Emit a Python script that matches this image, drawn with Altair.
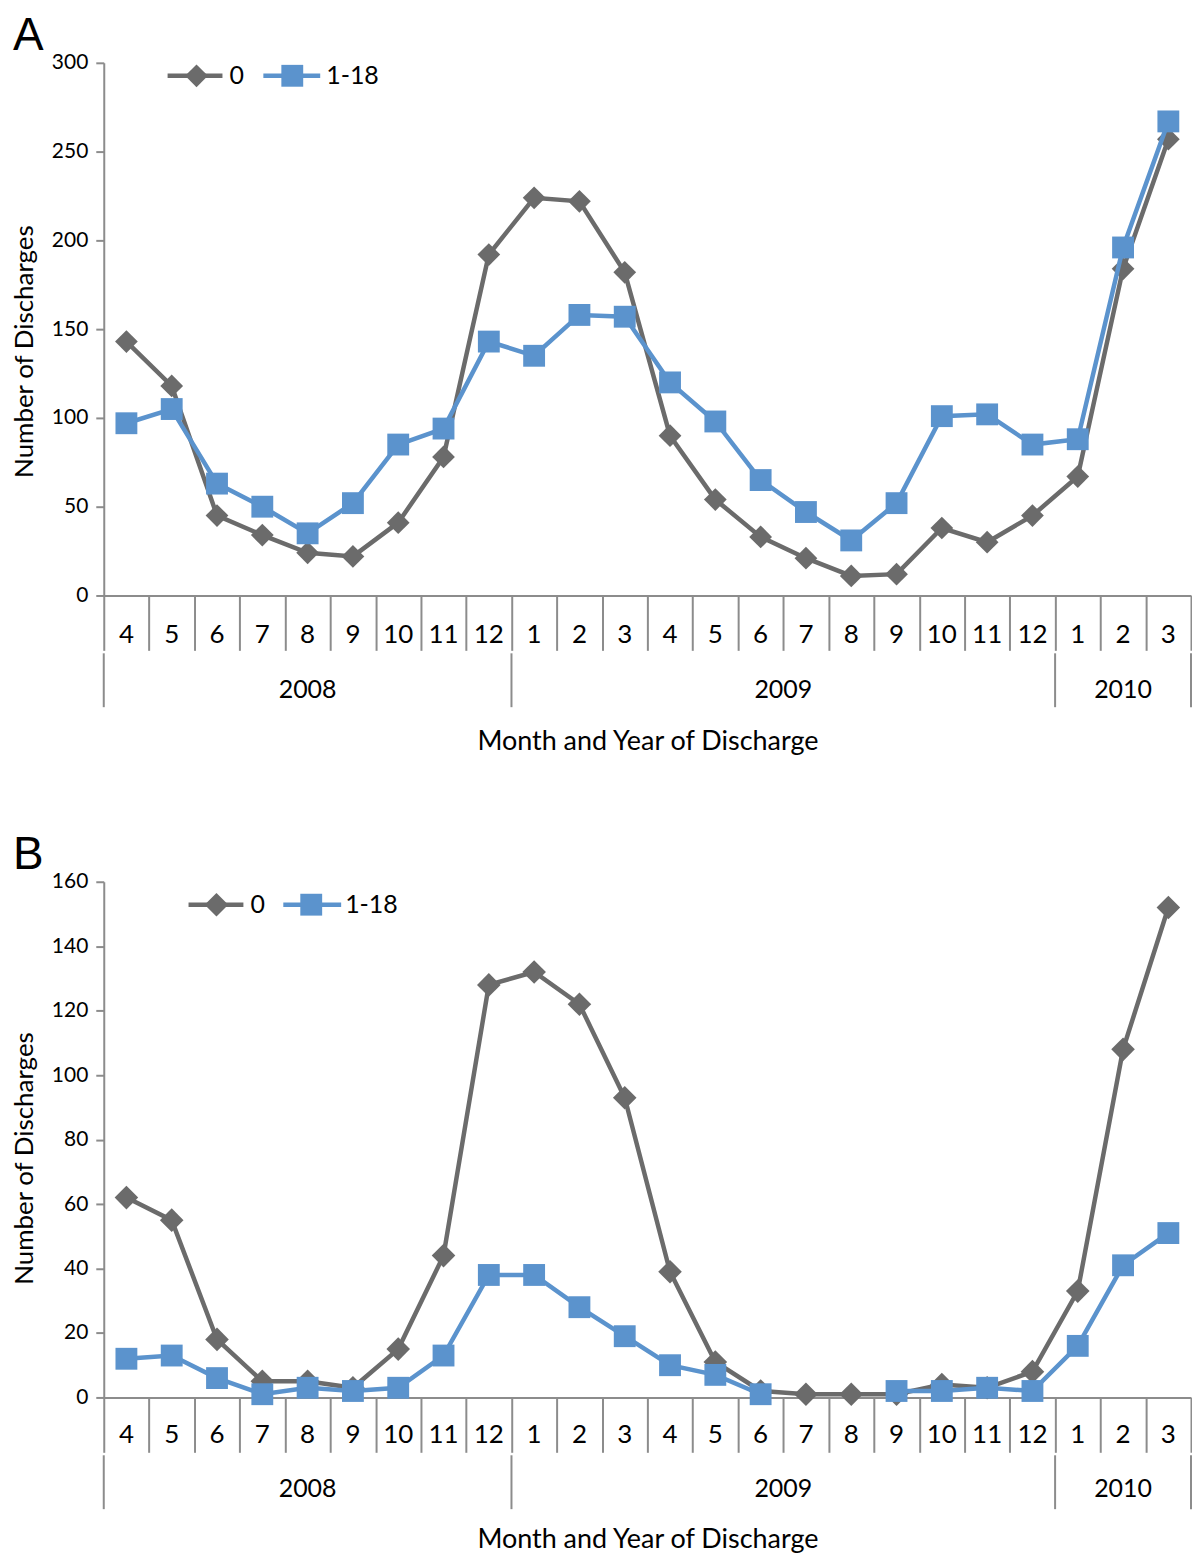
import altair as alt
import pandas as pd

# ---------------- data ----------------
months = [4, 5, 6, 7, 8, 9, 10, 11, 12, 1, 2, 3, 4, 5, 6, 7, 8, 9, 10, 11, 12, 1, 2, 3]
years = ["2008", "2009", "2010"]
year_first = [0, 9, 21]   # index of first month of each year
year_last = [8, 20, 23]   # index of last month of each year
series = ["0", "1-18"]

a_zero = [143, 118, 45, 34, 24, 22, 41, 78, 192, 224, 222, 182, 90, 54, 33, 21, 11, 12, 38, 30, 45, 67, 184, 257]
a_kids = [97, 105, 63, 50, 35, 52, 85, 94, 143, 135, 158, 157, 120, 98, 65, 47, 31, 52, 101, 102, 85, 88, 196, 267]
b_zero = [62, 55, 18, 5, 5, 3, 15, 44, 128, 132, 122, 93, 39, 11, 2, 1, 1, 1, 4, 3, 8, 33, 108, 152]
b_kids = [12, 13, 6, 1, 3, 2, 3, 13, 38, 38, 28, 19, 10, 7, 1, None, None, 2, 2, 3, 2, 16, 41, 51]

# ---------------- style ----------------
GRAY = "#6b6b6b"
BLUE = "#5b93cd"
AXIS = "#8c8c8c"
FONT = "Lato"
W = 1090

n = len(months)
bounds = [i - 0.5 for i in range(n + 1)]
year_bounds = [year_first[0] - 0.5] + [l + 0.5 for l in year_last]
one = alt.Data(values=[{}])


def panel(letter, zero, kids, ymax, ystep, height, leg, title_y, title_off, dsize, ssize):
    rows = []
    for s, vals in zip(series, [zero, kids]):
        for i, (m, v) in enumerate(zip(months, vals)):
            rows.append({"idx": i, "month": m, "series": s, "value": v})
    df = pd.DataFrame(rows)

    xscale = alt.Scale(domain=[-0.5, n - 0.5], nice=False, zero=False)
    yscale = alt.Scale(domain=[0, ymax], nice=False)
    x = alt.X("idx:Q", scale=xscale, axis=alt.Axis(
        values=bounds, tickSize=55, tickWidth=2, tickColor=AXIS,
        domainColor=AXIS, domainWidth=2, labels=False, grid=False,
        title="Month and Year of Discharge", titleFont=FONT, titleFontSize=27,
        titleFontWeight="normal", titleColor="black", titleBaseline="top",
        titleY=title_off, titleX=W / 2))
    y = alt.Y("value:Q", scale=yscale, axis=alt.Axis(
        values=list(range(0, ymax + 1, ystep)), tickSize=8, tickWidth=2,
        tickColor=AXIS, domainColor=AXIS, domainWidth=2, grid=False,
        labelFont=FONT, labelFontSize=21, labelColor="black", labelPadding=8,
        title="Number of Discharges", titleFont=FONT, titleFontSize=26,
        titleFontWeight="normal", titleColor="black", titleAngle=270,
        titleBaseline="bottom", titleX=-66, titleY=title_y))

    layers = []
    colors = [GRAY, BLUE]
    shapes = ["diamond", "square"]
    sizes = [dsize, ssize]
    for k, s in enumerate(series):
        base = alt.Chart(df).transform_filter(alt.datum.series == s)
        line = base.mark_line(color=colors[k], strokeWidth=4.5,
                              invalid="break-paths-show-domains").encode(x=x, y=y)
        pts = base.transform_filter("isValid(datum.value)").mark_point(
            shape=shapes[k], filled=True, opacity=1, color=colors[k],
            size=sizes[k]).encode(x=alt.X("idx:Q", scale=xscale),
                                  y=alt.Y("value:Q", scale=yscale))
        layers += [line, pts]

    # year separators below the month cells
    ydf = pd.DataFrame({"b": year_bounds})
    layers.append(alt.Chart(ydf).mark_rule(color=AXIS, strokeWidth=2).encode(
        x=alt.X("b:Q", scale=xscale), y=alt.value(height + 58),
        y2=alt.value(height + 112)))

    # month labels
    mdf = pd.DataFrame({"idx": list(range(n)), "label": [str(m) for m in months]})
    layers.append(alt.Chart(mdf).mark_text(font=FONT, fontSize=26, baseline="middle",
                                           color="black").encode(
        x=alt.X("idx:Q", scale=xscale), y=alt.value(height + leg["moff"]), text="label:N"))

    # year labels
    yl = pd.DataFrame({"year": years,
                       "c": [(f + l) / 2 for f, l in zip(year_first, year_last)]})
    layers.append(alt.Chart(yl).mark_text(font=FONT, fontSize=25, baseline="middle",
                                          color="black").encode(
        x=alt.X("c:Q", scale=xscale), y=alt.value(height + leg["yoff"]), text="year:N"))

    # panel letter
    layers.append(alt.Chart(one).mark_text(font="Liberation Sans", fontSize=46,
                                           align="left", baseline="top",
                                           color="black").encode(
        x=alt.value(-91), y=alt.value(-49), text=alt.value(letter)))

    # legend
    ly = leg["y"]
    for k, s in enumerate(series):
        x1, xm, x2, xt = leg["items"][k]
        layers.append(alt.Chart(one).mark_rule(color=colors[k], strokeWidth=4.5).encode(
            x=alt.value(x1), x2=alt.value(x2), y=alt.value(ly)))
        layers.append(alt.Chart(one).mark_point(shape=shapes[k], filled=True, opacity=1,
                                                color=colors[k], size=sizes[k]).encode(
            x=alt.value(xm), y=alt.value(ly)))
        layers.append(alt.Chart(one).mark_text(font=FONT, fontSize=25, align="left",
                                               baseline="middle", color="black").encode(
            x=alt.value(xt), y=alt.value(ly), text=alt.value(s)))

    return alt.layer(*layers).properties(width=W, height=height)


pa = panel("A", a_zero, a_kids, 300, 50, 534,
           {"y": 13, "moff": 40, "yoff": 95,
            "items": [(64, 93, 119, 126), (160, 189, 217, 223)]},
           289, 133, 520, 480)
pb = panel("B", b_zero, b_kids, 160, 20, 517,
           {"y": 23, "moff": 38, "yoff": 92,
            "items": [(85, 113, 140, 147), (180, 208, 238, 242)]},
           277, 129, 560, 480)

chart = alt.vconcat(pa, pb, spacing=78).properties(
    padding={"left": 4, "top": 3, "right": 0, "bottom": 0}).configure_view(
    stroke=None).configure_axis(labelFont=FONT)

chart.save("out.html", embed_options={"renderer": "svg", "actions": False})
